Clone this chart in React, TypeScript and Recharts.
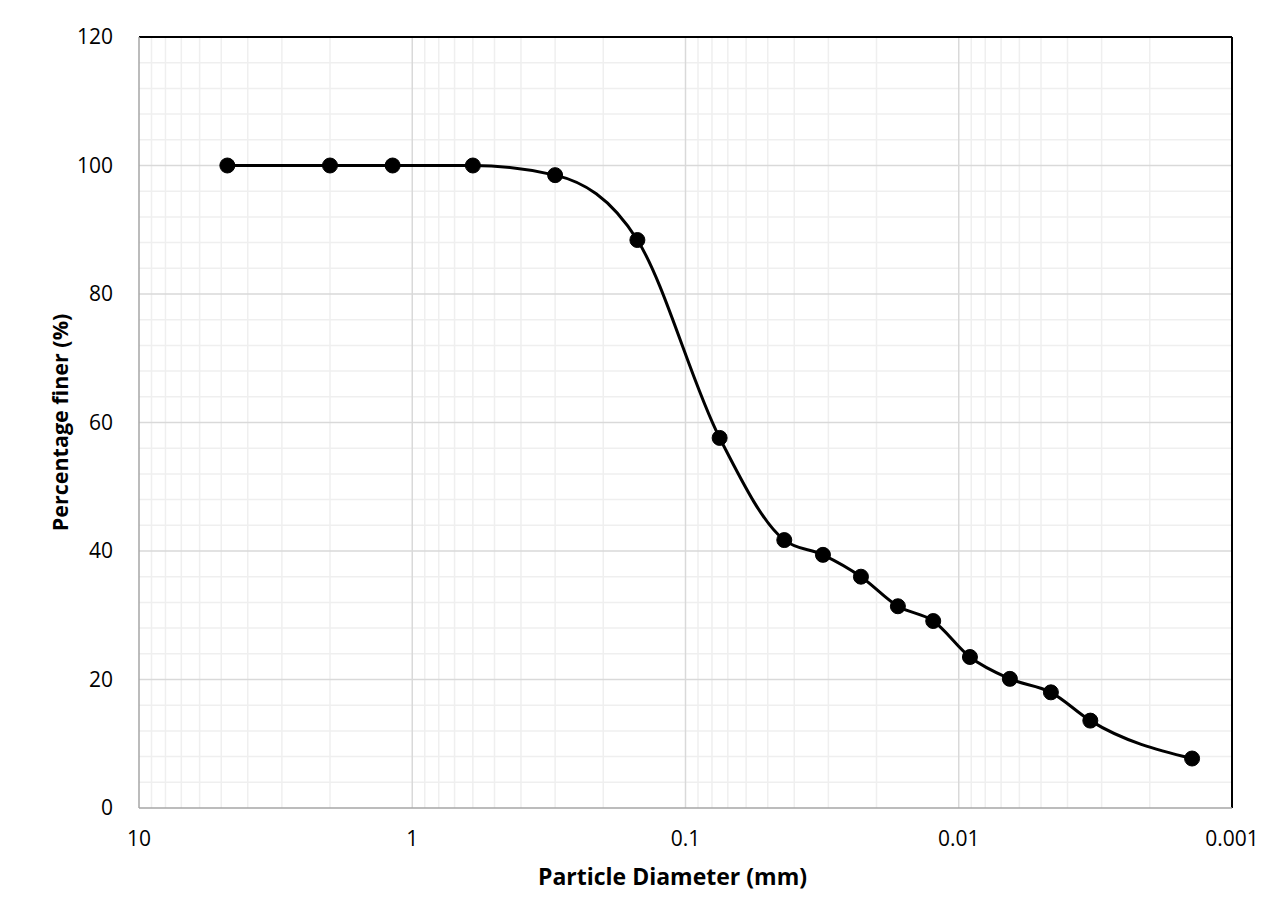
import React from 'react';
import { LineChart, Line, XAxis, YAxis, ReferenceLine, Label } from 'recharts';

// sieve + hydrometer results, coarse to fine
const diameters = [4.75, 2.0, 1.18, 0.6, 0.3, 0.15, 0.075, 0.0435, 0.0314, 0.0228, 0.0167, 0.0124, 0.0091, 0.0065, 0.0046, 0.0033, 0.0014];
const percentFiner = [100, 100, 100, 100, 98.5, 88.4, 57.6, 41.7, 39.4, 36.0, 31.4, 29.1, 23.5, 20.1, 18.0, 13.6, 7.7];

const xTicks = [10, 1, 0.1, 0.01, 0.001];
const yTicks = [0, 20, 40, 60, 80, 100, 120];
const xMinor = [0.001, 0.01, 0.1, 1].flatMap((d) => [2, 3, 4, 5, 6, 7, 8, 9].map((k) => +(k * d).toPrecision(3)));
const yMinor = [4, 8, 12, 16, 24, 28, 32, 36, 44, 48, 52, 56, 64, 68, 72, 76, 84, 88, 92, 96, 104, 108, 112, 116];

const data = diameters.map((d, i) => ({ d, p: percentFiner[i] }));

const FONT = '"Open Sans", Lato, sans-serif';

const YTitle = ({ viewBox }: any) => {
  const cx = viewBox.x - 20;
  const cy = viewBox.y + viewBox.height / 2;
  return (
    <text x={cx} y={cy} transform={`rotate(-90 ${cx} ${cy})`} textAnchor="middle" dominantBaseline="central"
      fontFamily={FONT} fontWeight="bold" fontSize={21.5} fill="#000">
      Percentage finer (%)
    </text>
  );
};

const XTitle = ({ viewBox }: any) => {
  const cx = viewBox.x + viewBox.width / 2 - 13;
  const cy = viewBox.y + 68;
  return (
    <text x={cx} y={cy} textAnchor="middle" dominantBaseline="central"
      fontFamily={FONT} fontWeight="bold" fontSize={23} fill="#000">
      Particle Diameter (mm)
    </text>
  );
};

export default function App() {
  return (
    <div style={{ position: 'relative', margin: -8, width: 1286, height: 920, overflow: 'hidden', background: '#fff' }}>
      <div style={{ position: 'absolute', left: 6, top: 6, width: 1280, height: 914, borderLeft: '2px solid #000', borderTop: '2px solid #000' }} />
      <div style={{ position: 'absolute', left: 0, top: 0 }}>
        <LineChart width={1286} height={920} data={data} margin={{ top: 37, right: 54, left: 79, bottom: 82 }}>
          <XAxis dataKey="d" type="number" scale="log" domain={[0.001, 10]} reversed allowDataOverflow
            ticks={xTicks} tickFormatter={(v) => String(v)} interval={0} height={30}
            axisLine={{ stroke: '#a6a6a6', strokeWidth: 1.5 }} tickLine={false} tickMargin={17}
            tick={{ fontFamily: FONT, fontSize: 21, fill: '#000' }}>
            <Label content={<XTitle />} />
          </XAxis>
          <YAxis type="number" domain={[0, 120]} ticks={yTicks} interval={0} width={60}
            axisLine={{ stroke: '#a6a6a6', strokeWidth: 1.5 }} tickLine={false} tickMargin={20}
            tick={{ fontFamily: FONT, fontSize: 21, fill: '#000' }}>
            <Label content={<YTitle />} />
          </YAxis>
          {yMinor.map((v) => <ReferenceLine key={'ym' + v} y={v} stroke="#efefef" strokeWidth={1.5} />)}
          {xMinor.map((v) => <ReferenceLine key={'xm' + v} x={v} stroke="#efefef" strokeWidth={1.5} />)}
          {yTicks.slice(1, -1).map((v) => <ReferenceLine key={'y' + v} y={v} stroke="#d9d9d9" strokeWidth={1.5} />)}
          {xTicks.slice(1, -1).map((v) => <ReferenceLine key={'x' + v} x={v} stroke="#d9d9d9" strokeWidth={1.5} />)}
          <ReferenceLine y={120} stroke="#000" strokeWidth={2} />
          <ReferenceLine x={0.001} stroke="#000" strokeWidth={2} />
          <Line dataKey="p" type="monotone" stroke="#000" strokeWidth={3} isAnimationActive={false}
            dot={{ r: 7.5, fill: '#000', stroke: '#000', strokeWidth: 1 }} activeDot={false} />
        </LineChart>
      </div>
    </div>
  );
}
